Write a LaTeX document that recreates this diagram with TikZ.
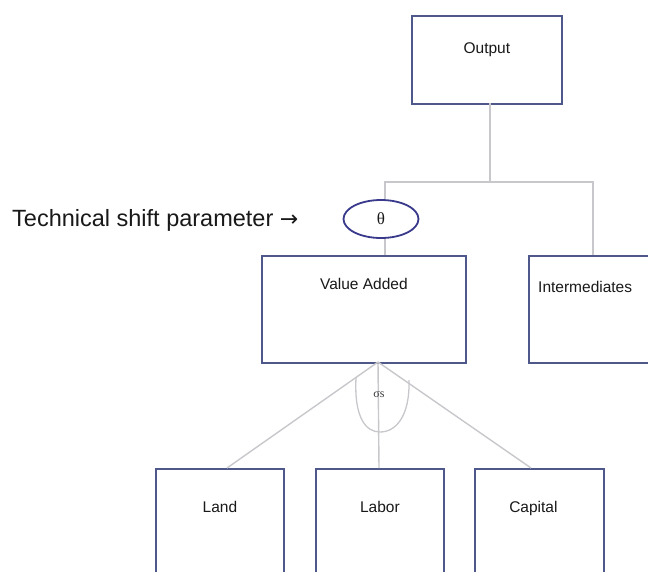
\documentclass[tikz,border=0pt]{standalone}
\usepackage{fontspec}
\setmainfont{Liberation Sans}
\newfontfamily\greekfont{Liberation Serif}
\newfontfamily\symfont{DejaVu Sans}
\usetikzlibrary{shapes.geometric}
\definecolor{boxline}{RGB}{78,88,138}
\definecolor{ovalline}{RGB}{58,58,140}
\definecolor{link}{RGB}{200,200,204}
\definecolor{ink}{RGB}{25,25,25}
\tikzset{
  box/.style={draw=boxline, line width=1.8pt, rectangle, anchor=north west,
    inner sep=0pt, text=ink},
  boxtext/.style={font=\fontsize{15.5}{17}\selectfont, text=ink, inner sep=0pt},
  link/.style={draw=link, line width=1.8pt},
}
\begin{document}
\begin{tikzpicture}[x=1pt, y=-1pt]
  \useasboundingbox (0,0) rectangle (648,571);
  \fill[white] (0,0) rectangle (648,571);
  \clip (0,0) rectangle (648,571);

  % boxes (north-west corner, width, height); labels placed by baseline
  \node[box, minimum width=150pt, minimum height=88pt,
        label={[boxtext, anchor=base, yshift=-38pt]north:Output}] (out) at (411,15) {};
  \node[box, minimum width=204pt, minimum height=107pt,
        label={[boxtext, anchor=base, yshift=-34pt]north:Value Added}] (va) at (261,255) {};
  \node[box, minimum width=150pt, minimum height=107pt,
        label={[boxtext, anchor=base west, xshift=10pt, yshift=-37pt]north west:Intermediates}] (inter) at (528,255) {};
  \node[box, minimum width=128pt, minimum height=120pt,
        label={[boxtext, anchor=base, yshift=-44pt]north:Land}] (land) at (155,468) {};
  \node[box, minimum width=128pt, minimum height=120pt,
        label={[boxtext, anchor=base, yshift=-44pt]north:Labor}] (labor) at (315,468) {};
  \node[box, minimum width=129pt, minimum height=120pt,
        label={[boxtext, anchor=base, yshift=-44pt, xshift=-6pt]north:Capital}] (capital) at (474,468) {};

  % technical shift parameter
  \node[ellipse, draw=ovalline, line width=1.8pt, minimum width=75pt, minimum height=38pt,
        inner sep=0pt, font=\greekfont\fontsize{17}{18}\selectfont, text=ink] (theta) at (381,219) {θ};
  \node[anchor=base west, inner sep=0pt, font=\fontsize{23.5}{25}\selectfont, text=ink] (tsp) at (12,226)
        {Technical shift parameter {\symfont\fontsize{22}{24}\selectfont →}};

  % upper tree
  \coordinate (jl) at (385,182);
  \coordinate (jr) at (593,182);
  \coordinate (outfoot) at (490,103);
  \draw[link] (outfoot) -- (outfoot |- jl);
  \draw[link] (jl |- theta.north) -- (jl) -- (jr) -- (jr |- inter.north);
  \draw[link] (jl |- theta.south) -- (jl |- va.north);

  % value-added nest
  \coordinate (vafoot) at (378,362);
  \draw[link, line width=1.4pt] (vafoot) -- (227,468);
  \draw[link, line width=1.4pt] (vafoot) -- (379,468);
  \draw[link, line width=1.4pt] (vafoot) -- (531,468);
  \draw[link, line width=1.3pt] (356,378) .. controls (354,418) and (366,432) .. (380,432)
        .. controls (396,432) and (410,416) .. (409,380);
  \node[font=\greekfont\fontsize{12}{13}\selectfont, text=ink!85] (sigma) at (379,394) {σs};
\end{tikzpicture}
\end{document}
